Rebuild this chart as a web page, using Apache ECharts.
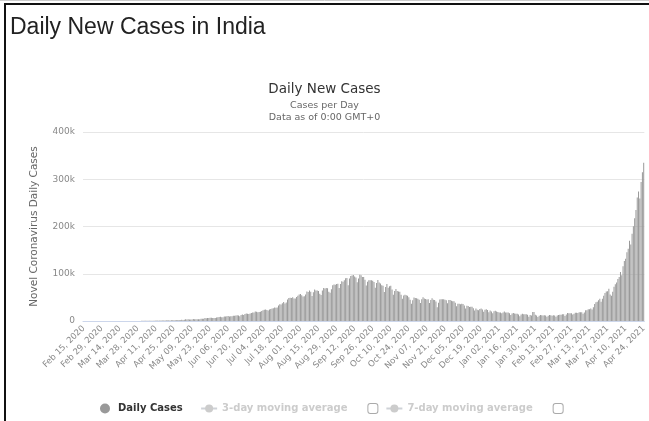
<!DOCTYPE html>
<html>
<head>
<meta charset="utf-8">
<script src="https://cdn.jsdelivr.net/npm/echarts@6/dist/echarts.min.js"></script>
<style>
html,body{margin:0;padding:0;background:#fff;}
#chart{width:649px;height:421px;}
</style>
</head>
<body>
<div id="chart"></div>
<script>
// Daily new cases (thousands), month by month
const feb2020 = [0,0,0,0,0,0,0,0,0,0,0,0,0,0,0];
const mar2020 = [0,0.002,0.001,0.022,0.002,0.001,0.003,0.005,0.004,0.013,0.012,0.009,0.017,0.01,0.015,0.026,0.018,0.027,0.022,0.051,0.073,0.076,0.077,0.104,0.078,0.152,0.145,0.106,0.149,0.158,0.326];
const apr2020 = [0.44,0.49,0.56,0.55,0.51,0.65,0.47,0.58,0.59,0.62,0.8,0.9,0.76,1.2,0.84,1.1,0.93,1.3,1.6,1.3,1.5,1.2,1.7,1.4,1.8,1.6,1.5,1.9,1.9,1.8];
const may2020 = [2.4,2.3,2.6,3.9,3.0,3.6,3.3,3.3,3.1,4.3,3.6,3.5,3.7,3.9,3.8,5.0,5.0,4.6,6.1,5.6,6.6,6.6,6.7,7.0,6.5,6.5,6.4,7.3,8.0,8.4,8.8];
const jun2020 = [7.7,8.2,9.6,9.3,9.9,10.4,9.5,9.9,10.0,11.1,11.0,11.9,12.0,11.5,10.0,12.9,14.0,12.9,14.7,15.9,15.2,14.8,15.9,16.9,18.2,18.1,20.1,19.5,18.3,18.9];
const jul2020 = [19.4,20.9,22.7,24.0,24.4,23.1,22.3,24.6,25.6,26.5,27.1,28.5,28.2,28.5,32.6,35.5,35.0,37.4,40.2,37.1,39.2,45.6,48.9,49.3,48.7,50.1,47.7,47.8,51.0,53.6,56.3];
const aug2020 = [57.1,54.7,51.9,52.5,56.3,62.2,61.5,64.4,62.1,53.0,60.9,66.9,64.5,64.6,63.5,57.9,55.0,64.6,69.6,68.9,70.0,69.2,61.7,59.7,67.2,75.8,77.3,76.5,78.5,79.0,69.9];
const sep2020 = [78.2,83.9,83.3,86.4,90.6,90.8,75.8,89.7,95.5,96.5,97.6,94.4,92.1,81.9,90.1,97.9,96.8,93.3,93.2,87.4,75.1,83.3,86.5,86.1,86.0,85.4,82.8,70.6,80.5,86.8];
const oct2020 = [81.5,79.5,75.6,74.4,61.3,72.1,78.5,70.5,73.3,74.4,66.7,55.3,63.5,67.7,63.4,62.2,61.9,55.7,47.0,54.0,55.8,54.4,53.4,50.1,45.1,36.5,43.9,49.9,48.6,48.3,46.9];
const nov2020 = [45.2,38.3,46.2,50.2,47.6,46.3,45.7,45.9,38.1,44.3,47.9,44.9,44.7,41.1,29.2,38.6,45.6,45.9,45.9,46.2,45.2,44.1,37.4,44.4,44.5,43.1,41.8,41.8,38.8,31.1];
const dec2020 = [36.6,36.4,35.6,36.6,36.0,32.9,26.6,32.1,31.5,29.4,30.0,30.3,27.1,22.1,26.4,24.0,22.9,25.2,26.6,24.4,19.6,23.9,24.7,23.1,18.7,22.3,20.0,16.4,20.6,21.8,20.0];
const jan2021 = [19.1,18.2,18.2,16.5,18.0,20.3,18.1,18.1,18.2,16.3,12.6,15.9,16.9,16.0,15.6,15.1,13.8,10.1,13.8,15.2,14.5,14.2,14.3,13.2,9.1,12.7,11.7,18.8,18.9,13.1,11.6];
const feb2021 = [8.6,11.0,12.9,12.4,11.7,12.1,11.8,9.1,11.0,12.9,12.1,11.1,12.2,11.6,9.1,11.6,12.9,13.2,13.2,14.3,14.3,10.6,13.7,16.7,16.6,16.5,16.6,13.8];
const mar2021 = [15.5,17.4,17.4,17.1,18.3,18.7,18.7,15.4,17.9,22.9,22.8,24.9,24.8,26.3,24.5,28.9,35.9,39.7,40.9,43.8,46.9,40.7,47.3,53.5,59.1,62.3,62.7,68.0,56.2,53.5,62.0];
const apr2021 = [72.3,78.0,81.4,89.1,92.9,103.6,96.6,115.7,126.8,131.9,145.4,152.9,169.9,161.7,184.4,200.7,217.4,234.7,261.5,274.0,259.2,294.1,314.8,335.0];

const dailyCases = [].concat(feb2020,mar2020,apr2020,may2020,jun2020,jul2020,aug2020,sep2020,oct2020,nov2020,dec2020,jan2021,feb2021,mar2021,apr2021);

// Category labels: one per day from Feb 15, 2020
const monthNames = ['Jan','Feb','Mar','Apr','May','Jun','Jul','Aug','Sep','Oct','Nov','Dec'];
const startDate = Date.UTC(2020,1,15);
const dates = dailyCases.map((_, i) => {
  const d = new Date(startDate + i*86400000);
  const dd = String(d.getUTCDate()).padStart(2,'0');
  return monthNames[d.getUTCMonth()] + ' ' + dd + ', ' + d.getUTCFullYear();
});

const yTicks = [0,100,200,300,400];
const seriesNames = ['Daily Cases','3-day moving average','7-day moving average'];

const chart = echarts.init(document.getElementById('chart'));
const font = "'DejaVu Sans', sans-serif";
chart.setOption({
  animation:false,
  textStyle:{fontFamily:font},
  title:[
    {text:'Daily New Cases in India', left:5, top:11,
     textStyle:{fontFamily:"'Liberation Sans', Arial, sans-serif", fontSize:23, fontWeight:'normal', color:'#222'}},
    {text:'Daily New Cases', left:'center', top:77, itemGap:4,
     textStyle:{fontFamily:font, fontSize:13.5, fontWeight:'normal', color:'#333'},
     subtext:'Cases per Day\nData as of 0:00 GMT+0',
     subtextStyle:{fontFamily:font, fontSize:9.5, color:'#666', lineHeight:12}}
  ],
  grid:{left:83, right:4, top:132, bottom:100},
  xAxis:{
    type:'category', data:dates, boundaryGap:true,
    axisLine:{lineStyle:{color:'#ccd6eb'}},
    axisTick:{show:false},
    axisLabel:{interval:13, rotate:45, fontSize:8.5, color:'#888', margin:6, fontFamily:font}
  },
  yAxis:{
    type:'value', min:yTicks[0], max:yTicks[yTicks.length-1], interval:100,
    name:'Novel Coronavirus Daily Cases', nameLocation:'middle', nameRotate:90, nameGap:43,
    nameTextStyle:{fontSize:10.5, color:'#666', fontFamily:font},
    axisLabel:{formatter:v => v === 0 ? '0' : v + 'k', fontSize:9, color:'#888', margin:8, fontFamily:font},
    splitLine:{lineStyle:{color:'#e6e6e6'}}
  },
  legend:{
    top:403, left:100, padding:0, itemGap:7, itemWidth:16, itemHeight:10,
    inactiveColor:'#ccc',
    selected:{'3-day moving average':false,'7-day moving average':false},
    textStyle:{fontSize:10, fontWeight:'bold', color:'#333', fontFamily:font,
      rich:{
        box:{width:9, height:9, borderColor:'#aaa', borderWidth:1, borderRadius:2, backgroundColor:'#fff'}
      }},
    formatter:name => name === seriesNames[0] ? name + '   ' : name + '      {box|}',
    data:[{name:seriesNames[0], icon:'circle'}, {name:seriesNames[1]}, {name:seriesNames[2]}]
  },
  series:[
    {name:seriesNames[0], type:'bar', data:dailyCases, barCategoryGap:'25%',
     itemStyle:{color:'#999'}},
    {name:seriesNames[1], type:'line', data:[], symbol:'circle', itemStyle:{color:'#7cb5ec'}},
    {name:seriesNames[2], type:'line', data:[], symbol:'circle', itemStyle:{color:'#434348'}}
  ],
  graphic:[
    {type:'line', shape:{x1:0,y1:0.5,x2:649,y2:0.5}, style:{stroke:'#ccc', lineWidth:1}},
    {type:'polyline', shape:{points:[[5,421],[5,4],[649,4]]}, style:{stroke:'#111', lineWidth:2, fill:null}}
  ]
});
</script>
</body>
</html>
